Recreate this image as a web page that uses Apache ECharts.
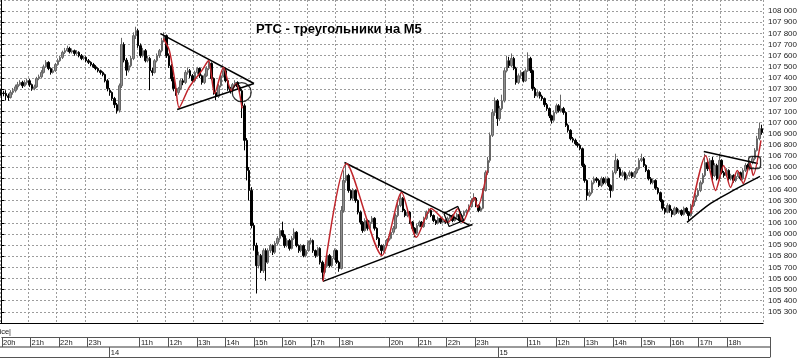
<!DOCTYPE html>
<html><head><meta charset="utf-8">
<script src="https://cdn.jsdelivr.net/npm/echarts@6/dist/echarts.min.js"></script>
<style>html,body{margin:0;padding:0;background:#fff;overflow:hidden}#c{width:800px;height:358px}</style>
</head><body><div id="c"></div>
<script>
// ---- time structure (M5 bars): [day, hour, number of 5-min bars]
const hourBlocks = [
 ['13','20',12],['13','21',12],['13','22',12],['13','23',10],
 ['14','10',12],['14','11',12],['14','12',12],['14','13',12],['14','14',12],['14','15',12],['14','16',12],['14','17',12],
 ['14','18',9],['14','19',12],['14','20',12],['14','21',12],['14','22',12],['14','23',10],
 ['15','10',12],['15','11',12],['15','12',12],['15','13',12],['15','14',12],['15','15',12],['15','16',12],['15','17',12],
 ['15','18',9],['15','19',9]
];
const shownHours = ['20','21','22','23','11','12','13','14','15','16','17','18'];
const dayMarks = ['14','15'];
const priceMin = 105200, priceMax = 108100, priceStep = 100;
const titleText = 'РТС - треугольники на М5';

// ---- candles [open, close, low, high]
const candles13 = [
[107280,107265,107240,107300],[107265,107260,107235,107285],[107260,107240,107200,107290],[107240,107225,107195,107260],
[107225,107270,107215,107290],[107270,107285,107250,107310],[107285,107320,107270,107340],[107320,107340,107300,107365],
[107340,107360,107330,107380],[107360,107330,107310,107375],[107330,107360,107320,107380],[107360,107375,107340,107395],
[107375,107340,107320,107390],[107340,107305,107285,107350],[107305,107320,107290,107340],[107320,107395,107310,107410],
[107395,107410,107380,107430],[107410,107450,107400,107470],[107450,107500,107440,107520],[107500,107540,107490,107560],
[107540,107485,107470,107550],[107485,107450,107430,107495],[107450,107465,107440,107485],[107465,107520,107455,107535],
[107520,107555,107510,107575],[107555,107585,107545,107600],[107585,107630,107570,107645],[107630,107645,107615,107670],
[107645,107665,107635,107690],[107665,107635,107620,107680],[107635,107645,107620,107665],[107645,107620,107600,107655],
[107620,107630,107605,107650],[107630,107600,107585,107640],[107600,107575,107560,107615],[107575,107585,107560,107600],
[107585,107555,107540,107595],[107555,107540,107525,107570],[107540,107520,107505,107550],[107520,107500,107490,107535],
[107500,107485,107470,107515],[107485,107465,107450,107495],[107465,107450,107430,107475],[107450,107430,107415,107460],
[107430,107375,107360,107440],[107375,107305,107280,107390]
];
const candles14 = [
[107290,107270,107240,107310],[107270,107215,107195,107280],[107215,107160,107130,107230],[107160,107105,107080,107175],
[107110,107330,107090,107350],[107330,107700,107310,107760],[107700,107560,107540,107720],[107560,107470,107420,107580],
[107470,107510,107450,107540],[107510,107575,107495,107600],[107575,107780,107560,107810],[107780,107825,107750,107860],
[107825,107690,107670,107840],[107690,107600,107580,107710],[107600,107645,107585,107670],[107645,107555,107540,107660],
[107555,107575,107540,107600],[107575,107465,107290,107590],[107465,107450,107420,107490],[107450,107555,107440,107570],
[107555,107600,107540,107620],[107600,107645,107580,107660],[107645,107735,107630,107760],[107735,107780,107720,107810],
[107780,107600,107580,107790],[107600,107510,107490,107620],[107510,107395,107370,107525],[107395,107305,107280,107410],
[107305,107270,107240,107320],[107270,107305,107250,107320],[107305,107375,107290,107390],[107375,107360,107335,107395],
[107360,107450,107345,107470],[107450,107465,107430,107495],[107465,107420,107400,107480],[107420,107375,107355,107435],
[107375,107450,107360,107465],[107450,107485,107430,107500],[107485,107420,107400,107495],[107420,107360,107340,107430],
[107360,107420,107345,107440],[107420,107485,107410,107505],[107485,107530,107470,107555],[107530,107395,107380,107540],
[107395,107270,107250,107405],[107270,107235,107200,107285],[107235,107330,107220,107345],[107330,107420,107315,107440],
[107420,107465,107405,107500],[107465,107375,107360,107480],[107375,107305,107285,107390],[107305,107285,107260,107320],
[107285,107340,107270,107355],[107340,107360,107325,107380],[107360,107320,107300,107370],[107320,107285,107265,107335],
[107285,107150,107040,107300],[107150,106840,106750,107170],[106840,106570,106480,106860],[106570,106390,106300,106600],
[106390,106075,106050,106420],[106075,105895,105850,106100],[105895,105715,105465,105920],[105715,105805,105690,105840],
[105805,105670,105650,105820],[105670,105850,105650,105870],[105850,105745,105580,105870],[105745,105850,105730,105870],
[105850,105895,105830,105910],[105895,105835,105810,105905],[105835,105915,105820,105935],[105915,105960,105900,105980],
[105960,106030,105945,106050],[106030,105985,105970,106110],[105985,105895,105875,106000],[105895,105940,105880,105960],
[105940,105870,105850,105955],[105870,105960,105860,105980],[105960,106015,105945,106050],[106015,105895,105880,106025],
[105895,105850,105830,105905],[105850,105895,105835,105910],[105895,105805,105790,105905],[105805,105850,105790,105865],
[105850,105925,105840,105940],[105925,105940,105905,105965],[105940,105850,105830,105950],[105850,105805,105785,105860],
[105805,105870,105795,105885],[105870,105745,105725,105880],[105745,105655,105585,105760],[105655,105710,105640,105730],
[105710,105805,105695,105820],[105805,105715,105700,105820],[105715,105780,105700,105800],[105780,105850,105765,105870],
[105850,105745,105730,105860],[105745,105690,105660,105760],[105690,106210,105680,106250],[106210,106480,106190,106570],
[106480,106525,106460,106640],[106525,106390,106370,106540],[106390,106320,106300,106400],[106320,106390,106300,106410],
[106390,106300,106280,106400],[106300,106195,106175,106310],[106195,106105,106085,106210],[106105,106030,106010,106115],
[106030,106120,106020,106140],[106120,106050,106030,106130],[106050,106105,106040,106120],[106105,106140,106090,106160],
[106140,106050,106030,106150],[106050,105960,105945,106060],[105960,105895,105875,105970],[105895,105850,105810,105905],
[105850,105895,105835,105910],[105895,105940,105880,105955],[105940,105960,105925,105980],[105960,106015,105950,106030],
[106015,106050,106000,106070],[106050,106165,106040,106185],[106165,106255,106150,106275],[106255,106320,106240,106365],
[106320,106210,106195,106330],[106210,106165,106150,106225],[106165,106195,106150,106215],[106195,106105,106090,106205],
[106105,106050,106030,106115],[106050,106005,105970,106060],[106005,106075,105995,106090],[106075,106105,106060,106120],
[106105,106065,106050,106115],[106065,106140,106055,106155],[106140,106195,106125,106210],[106195,106210,106180,106230],
[106210,106165,106150,106220],[106165,106120,106105,106175],[106120,106095,106080,106130],[106095,106140,106085,106155],
[106140,106105,106090,106150],[106105,106120,106095,106135],[106120,106105,106090,106130],[106105,106140,106095,106155],
[106140,106165,106130,106180],[106165,106120,106105,106175],[106120,106150,106110,106165],[106150,106175,106140,106190],
[106175,106120,106105,106185],[106120,106165,106110,106180],[106165,106195,106155,106210],[106195,106210,106180,106225],
[106210,106245,106200,106265],[106245,106300,106235,106320],[106300,106320,106285,106365],[106320,106255,106240,106330],
[106255,106210,106195,106265],[106210,106230,106200,106245],[106230,106390,106220,106410],[106390,106550,106380,106570],
[106550,106660,106530,106690],[106660,106885,106640,106910],[106885,107090,106870,107120]
];
const candles15 = [
[107090,107195,107060,107225],[107195,107035,106970,107210],[107035,107125,107015,107150],[107125,107195,107110,107250],
[107195,107465,107180,107490],[107465,107555,107450,107600],[107555,107510,107490,107590],[107510,107575,107495,107620],
[107575,107485,107470,107590],[107485,107360,107340,107500],[107360,107420,107345,107440],[107420,107450,107400,107470],
[107450,107375,107360,107460],[107375,107465,107365,107485],[107465,107575,107455,107630],[107575,107465,107445,107590],
[107465,107305,107285,107475],[107305,107240,107220,107320],[107240,107270,107225,107290],[107270,107235,107215,107280],
[107235,107215,107195,107250],[107215,107160,107140,107225],[107160,107125,107105,107175],[107125,107060,107040,107135],
[107060,107020,106990,107070],[107020,107090,107005,107110],[107090,107150,107075,107170],[107150,107105,107090,107165],
[107105,107125,107090,107250],[107125,107090,107070,107140],[107090,106975,106960,107100],[106975,106930,106910,106990],
[106930,106855,106840,106940],[106855,106840,106820,106870],[106840,106810,106795,106855],[106810,106795,106775,106825],
[106795,106765,106750,106810],[106765,106615,106600,106775],[106615,106480,106460,106630],[106480,106345,106300,106490],
[106345,106370,106330,106390],[106370,106460,106355,106480],[106460,106495,106445,106515],[106495,106480,106460,106510],
[106480,106435,106420,106495],[106435,106495,106420,106515],[106495,106460,106445,106510],[106460,106495,106445,106515],
[106495,106435,106420,106505],[106435,106390,106325,106445],[106390,106550,106380,106570],[106550,106660,106535,106720],
[106660,106585,106565,106675],[106585,106525,106505,106600],[106525,106550,106510,106570],[106550,106495,106480,106560],
[106495,106525,106480,106540],[106525,106550,106510,106570],[106550,106515,106500,106560],[106515,106550,106500,106565],
[106550,106585,106535,106600],[106585,106660,106570,106680],[106660,106675,106645,106720],[106675,106615,106600,106690],
[106615,106570,106555,106625],[106570,106495,106480,106580],[106495,106460,106445,106510],[106460,106480,106445,106495],
[106480,106410,106395,106490],[106410,106370,106355,106420],[106370,106300,106285,106380],[106300,106230,106210,106310],
[106230,106195,106175,106240],[106195,106255,106185,106275],[106255,106210,106190,106265],[106210,106175,106150,106225],
[106175,106230,106165,106245],[106230,106195,106180,106240],[106195,106210,106180,106225],[106210,106175,106160,106220],
[106175,106230,106165,106245],[106230,106195,106180,106240],[106195,106165,106125,106205],[106165,106255,106155,106270],
[106255,106300,106240,106320],[106300,106345,106285,106365],[106345,106390,106330,106410],[106390,106460,106375,106480],
[106460,106525,106445,106545],[106525,106640,106510,106720],[106640,106585,106565,106660],[106585,106660,106570,106680],
[106660,106525,106480,106690],[106525,106615,106510,106635],[106615,106495,106480,106630],[106495,106660,106480,106720],
[106660,106550,106535,106670],[106550,106525,106505,106565],[106525,106570,106510,106590],[106570,106495,106480,106580],
[106495,106525,106480,106540],[106525,106480,106460,106535],[106480,106515,106465,106530],[106515,106550,106500,106565],
[106550,106495,106480,106560],[106495,106570,106485,106590],[106570,106615,106555,106635],[106615,106585,106570,106630],
[106585,106640,106570,106660],[106640,106675,106625,106695],[106675,106750,106660,106770],[106750,106855,106740,106880],
[106855,106945,106840,107000],[106945,106910,106890,106980]
];

// ---- hand-drawn analysis overlays: [bar index, price]
const tri1Top = [[67.4,107798],[107,107350]];
const tri1Bottom = [[74.5,107117],[107,107350]];
const wave1 = [[68.7,107753],[71.2,107646],[73.7,107350],[75.3,107134],[79.5,107314],[84.9,107466],[87.8,107556],[90.3,107260],[94.1,107493],[97.4,107287],[99.5,107350],[102,107126]];
const tri2Top = [[145.3,106641],[198.3,106076]];
const tri2Bottom = [[136.2,105574],[199.5,106085]];
const wave2 = [[136.2,105574],[146.2,106632],[161.2,105807],[169.5,106372],[175.8,105969],[182,106229],[189.1,106103],[193.3,106229],[195.3,106103],[200.3,106327],[201.6,106238],[205.8,106569]];
const box2 = [[187.4,106184],[193.3,106247],[195.8,106121],[189.6,106067],[187.4,106184]];
const tri3Top = [[297.4,106740],[320.3,106632]];
const tri3Bottom = [[290.3,106103],[300.3,106273],[309.9,106390],[321.2,106516]];
const wave3 = [[291.9,106184],[298.2,106704],[302.4,106390],[305.8,106614],[308.7,106417],[311.6,106570],[314.1,106453],[317,106632],[318.3,106525],[321.6,106839]];
const circles = [[101.8,107272]];
const boxes = [[318.9,106641]];

// ---- build
const categories = [];
hourBlocks.forEach(([d,h,n]) => { for (let k=0;k<n;k++) categories.push(d+' '+h+':'+String(k*5).padStart(2,'0')); });
const candles = candles13.concat(candles14, candles15);
const N = categories.length;
const isHourMark = (i) => { const v = categories[i]; const hh = v.slice(3,5), mm = v.slice(6); return mm === '00' && shownHours.indexOf(hh) >= 0; };
const isDayMark = (i) => { const v = categories[i]; return v.slice(3) === '10:00' && dayMarks.indexOf(v.slice(0,2)) >= 0; };

const GL = -5, GR = 30;
const FONT = "'Liberation Sans',Arial,sans-serif";
const chart = echarts.init(document.getElementById('c'), null, {renderer:'canvas'});
const dash = {color:'#9c9c9c', type:[2,2], width:1};
const lineSeries = (data, color, width, smooth) => ({type:'line', xAxisIndex:1, yAxisIndex:0, data, symbol:'none', smooth: smooth||0, silent:true, lineStyle:{color, width}, z:5});
chart.setOption({
  animation:false,
  backgroundColor:'#fff',
  title:[
    {text:titleText, left:256, top:23, padding:0, textStyle:{fontSize:13, fontWeight:'bold', color:'#000', fontFamily:FONT}},
    {text:'Price|', left:-8, top:328, padding:0, textStyle:{fontSize:7.5, fontWeight:'normal', color:'#222', fontFamily:FONT}}
  ],
  grid:[
    {left:GL, right:GR, top:-1, bottom:35},
    {left:GL, right:GR, top:327, height:10},
    {left:GL, right:GR, top:337, height:10},
    {left:GL, right:GR, top:347, height:10}
  ],
  xAxis:[
    {type:'category', gridIndex:0, data:categories, boundaryGap:true,
     axisLine:{show:true, lineStyle:{color:'#000', width:1}}, axisTick:{show:false}, axisLabel:{show:false},
     splitLine:{show:true, interval:(i)=>isHourMark(i), lineStyle:dash}},
    {type:'value', gridIndex:0, min:-0.5, max:N-0.5, show:false},
    {type:'category', gridIndex:1, data:categories, position:'bottom', boundaryGap:true,
     axisLine:{show:true, lineStyle:{color:'#555', width:1}},
     axisTick:{show:true, interval:(i)=>isHourMark(i), length:10, lineStyle:{color:'#555'}},
     axisLabel:{show:true, interval:(i)=>isHourMark(i), formatter:(v)=>v.slice(3,5)+'h', align:'left', margin:2, fontSize:7.5, color:'#222', fontFamily:FONT},
     splitLine:{show:false}},
    {type:'category', gridIndex:2, data:categories, position:'bottom', boundaryGap:true,
     axisLine:{show:true, lineStyle:{color:'#999', width:2}},
     axisTick:{show:true, interval:(i)=>isDayMark(i), length:10, lineStyle:{color:'#555'}},
     axisLabel:{show:true, interval:(i)=>isDayMark(i), formatter:(v)=>v.slice(0,2), align:'left', margin:2, fontSize:7.5, color:'#222', fontFamily:FONT},
     splitLine:{show:false}},
    {type:'category', gridIndex:3, data:categories, position:'bottom',
     axisLine:{show:true, lineStyle:{color:'#555', width:1}}, axisTick:{show:false}, axisLabel:{show:false}, splitLine:{show:false}}
  ],
  yAxis:[
    {type:'value', gridIndex:0, position:'right', min:priceMin, max:priceMax, interval:priceStep,
     axisLine:{show:true, lineStyle:{color:'#000', width:1}},
     axisTick:{show:true, length:3, lineStyle:{color:'#000'}},
     axisLabel:{show:true, showMinLabel:false, showMaxLabel:false, margin:5, fontSize:8, color:'#222', fontFamily:FONT,
       formatter:(v)=>{const s=String(v); return s.slice(0,s.length-3)+' '+s.slice(-3);}},
     splitLine:{show:true, lineStyle:dash}},
    {type:'value', gridIndex:1, show:false},
    {type:'value', gridIndex:2, show:false},
    {type:'value', gridIndex:3, show:false}
  ],
  series:[
    {type:'candlestick', xAxisIndex:0, yAxisIndex:0, data:candles, barWidth:2,
     itemStyle:{color:'#8e8e8e', color0:'#000', borderColor:'#666', borderColor0:'#000', borderWidth:1}},
    lineSeries(tri1Top,'#000',1.5), lineSeries(tri1Bottom,'#000',1.5), lineSeries(wave1,'#c0262c',1.5,0.25),
    lineSeries(tri2Top,'#000',1.5), lineSeries(tri2Bottom,'#000',1.5), lineSeries(wave2,'#c0262c',1.5,0.25), lineSeries(box2,'#000',1.2),
    lineSeries(tri3Top,'#000',1.5), lineSeries(tri3Bottom,'#000',1.5,0.3), lineSeries(wave3,'#c0262c',1.5,0.25),
    {type:'scatter', xAxisIndex:1, yAxisIndex:0, data:circles, symbol:'circle', symbolSize:19, silent:true, z:6,
     itemStyle:{color:'rgba(0,0,0,0)', borderColor:'#000', borderWidth:1.3}},
    {type:'scatter', xAxisIndex:1, yAxisIndex:0, data:boxes, symbol:'roundRect', symbolSize:[12,12], silent:true, z:6,
     itemStyle:{color:'rgba(0,0,0,0)', borderColor:'#000', borderWidth:1.3}}
  ]
});
</script></body></html>
